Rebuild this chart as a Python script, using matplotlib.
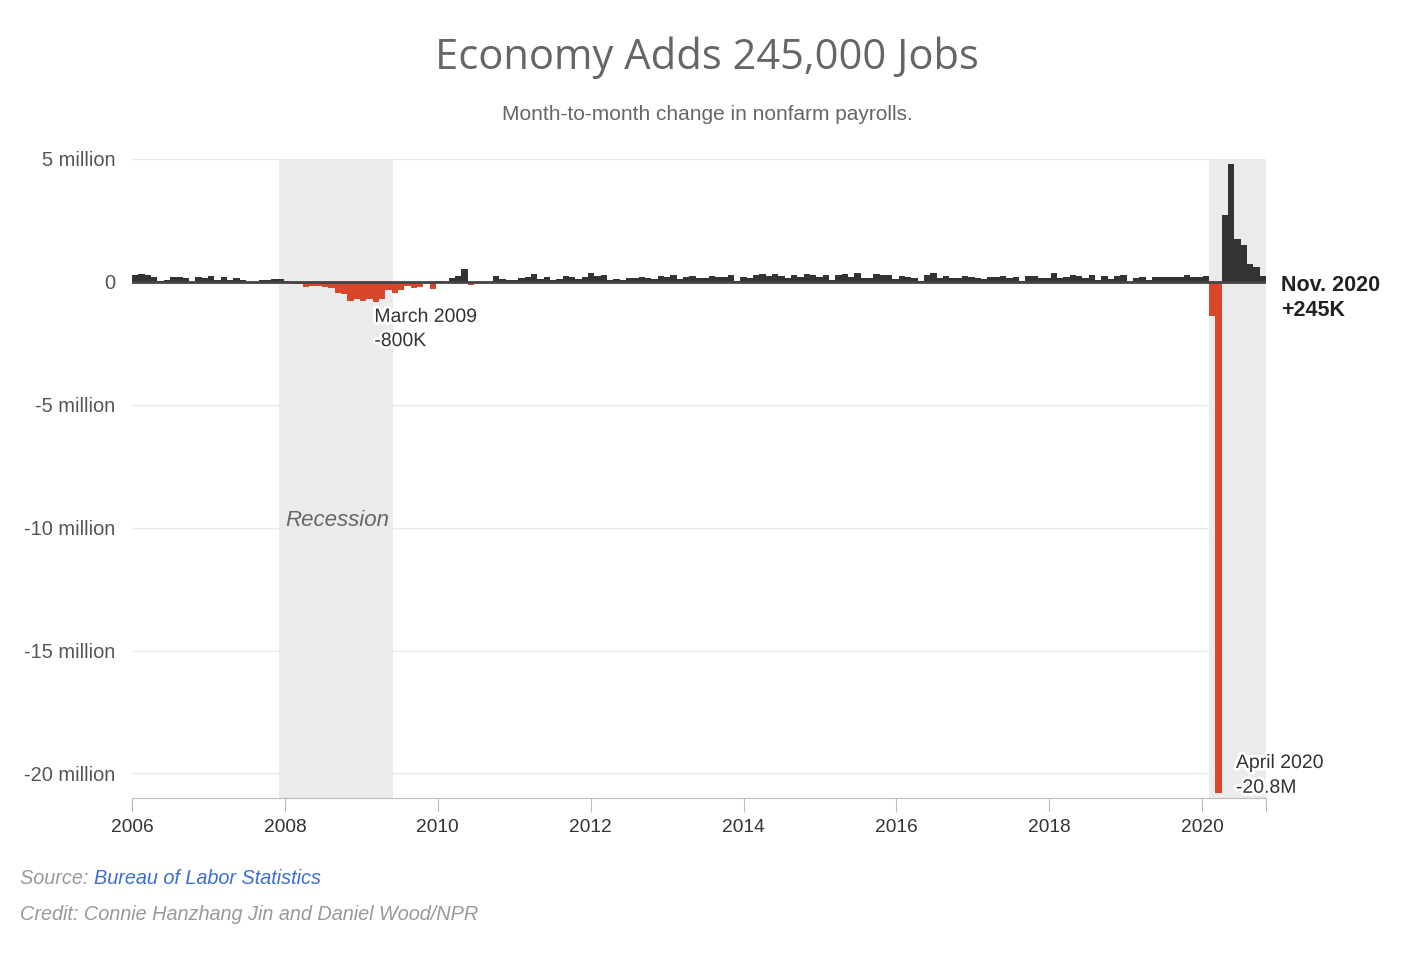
import numpy as np
import matplotlib.pyplot as plt
import matplotlib.patheffects as pe

# monthly change in nonfarm payrolls, thousands, Jan 2006 - Nov 2020
jobs_2006 = [277, 315, 280, 182, 23, 77, 207, 184, 157, 2, 210, 171]
jobs_2007 = [238, 88, 190, 80, 143, 75, -34, -20, 88, 84, 114, 98]
jobs_2008 = [17, -84, -78, -210, -185, -165, -209, -266, -452, -473, -769, -695]
jobs_2009 = [-791, -703, -800, -695, -345, -470, -335, -155, -233, -190, 7, -283]
jobs_2010 = [18, -50, 156, 251, 516, -122, -61, -42, -57, 241, 137, 71]
jobs_2011 = [70, 168, 212, 322, 102, 217, 62, 110, 239, 206, 136, 209]
jobs_2012 = [376, 259, 266, 79, 103, 83, 158, 172, 189, 157, 132, 244]
jobs_2013 = [190, 280, 134, 191, 224, 171, 144, 255, 183, 214, 269, 48]
jobs_2014 = [189, 176, 265, 327, 232, 304, 236, 174, 286, 219, 326, 283]
jobs_2015 = [199, 266, 90, 290, 331, 209, 348, 146, 154, 336, 270, 288]
jobs_2016 = [99, 235, 200, 156, 45, 300, 369, 156, 245, 141, 162, 227]
jobs_2017 = [217, 170, 106, 185, 179, 220, 148, 202, 18, 253, 234, 170]
jobs_2018 = [168, 368, 175, 191, 263, 243, 160, 270, 91, 241, 115, 222]
jobs_2019 = [269, 1, 147, 210, 85, 182, 194, 207, 208, 185, 261, 184]
jobs_2020 = [214, 251, -1373, -20787, 2725, 4781, 1761, 1493, 711, 610, 245]

changes = (jobs_2006 + jobs_2007 + jobs_2008 + jobs_2009 + jobs_2010 + jobs_2011
           + jobs_2012 + jobs_2013 + jobs_2014 + jobs_2015 + jobs_2016 + jobs_2017
           + jobs_2018 + jobs_2019 + jobs_2020)
vals = np.array(changes) / 1000.0  # millions

years = list(range(2006, 2021, 2))
recessions = [(2007 + 11/12, 2009 + 5/12), (2020 + 1/12, 2020 + 10/12)]

x_start = 2006.0
x_end = 2020 + 10/12
n = len(vals)
w = (x_end - x_start) / n
xs = x_start + np.arange(n) * w

dark = '#333333'
red = '#d9472b'

fig = plt.figure(figsize=(14.26, 9.66), dpi=100)
ax = fig.add_axes([132/1426, 1 - 798/966, (1266-132)/1426, (798-159)/966])

for a, b in recessions:
    ax.axvspan(a, b, color='#ebebeb', zorder=1, lw=0)

colors = [red if v < 0 else dark for v in vals]
ax.bar(xs, vals, width=w, align='edge', color=colors, lw=0, zorder=3)
ax.axhline(0, color='#444444', lw=2, zorder=4)

ax.set_xlim(x_start, x_end)
ax.set_ylim(-21, 5)
ax.set_yticks([5, 0, -5, -10, -15, -20])
ax.set_yticklabels(['5 million', '0', '-5 million', '-10 million', '-15 million', '-20 million'])
ax.set_xticks(years + [x_end])
ax.set_xticklabels([str(y) for y in years] + [''])
ax.grid(axis='y', color='#e8e8e8', lw=1, zorder=0)
ax.set_axisbelow(True)
for s in ['top', 'right', 'left']:
    ax.spines[s].set_visible(False)
ax.spines['bottom'].set_color('#bbbbbb')
ax.tick_params(axis='y', length=0, pad=12, labelsize=14.4, labelcolor='#555555')
ax.tick_params(axis='x', length=10, color='#bbbbbb', pad=5, labelsize=13.8, labelcolor='#333333')
for t in ax.get_xticklabels() + ax.get_yticklabels():
    t.set_family('Liberation Sans')

halo = [pe.withStroke(linewidth=4, foreground='white')]
ax.text(2009.17, -1.1, 'March 2009\n-800K', va='top', ha='left', fontsize=14,
        color='#333333', family='Liberation Sans', linespacing=1.55,
        path_effects=halo, zorder=6)
ax.text(2020.44, -19.25, 'April 2020\n-20.8M', va='top', ha='left', fontsize=14,
        color='#333333', family='Liberation Sans', linespacing=1.6,
        path_effects=halo, zorder=6)
ax.text(2021.03, 0.3, 'Nov. 2020\n+245K', va='top', ha='left', fontsize=15.5,
        fontweight='bold', color='#222222', family='Liberation Sans',
        linespacing=1.3, clip_on=False)
ax.text(2008.68, -9.7, 'Recession', ha='center', va='center', fontsize=16,
        style='italic', color='#666666', family='Liberation Sans', zorder=6)

fig.text(707/1426, 1 - 58/966, 'Economy Adds 245,000 Jobs', ha='center', va='center',
         fontsize=30, color='#666666', family='Open Sans')
fig.text(707/1426, 1 - 115/966, 'Month-to-month change in nonfarm payrolls.', ha='center',
         va='center', fontsize=15, color='#666666', family='Liberation Sans')

src = fig.text(20/1426, 1 - 879/966, 'Source: ', ha='left', va='center', fontsize=14.3,
               style='italic', color='#999999', family='Liberation Sans')
fig.canvas.draw()
bb = src.get_window_extent()
fig.text(bb.x1 / fig.bbox.width, 1 - 879/966, 'Bureau of Labor Statistics', ha='left',
         va='center', fontsize=14.3, style='italic', color='#3a6fcf', family='Liberation Sans')
fig.text(20/1426, 1 - 915/966, 'Credit: Connie Hanzhang Jin and Daniel Wood/NPR', ha='left',
         va='center', fontsize=14.3, style='italic', color='#999999', family='Liberation Sans')

fig.savefig('out.png', dpi=100, facecolor='white')
